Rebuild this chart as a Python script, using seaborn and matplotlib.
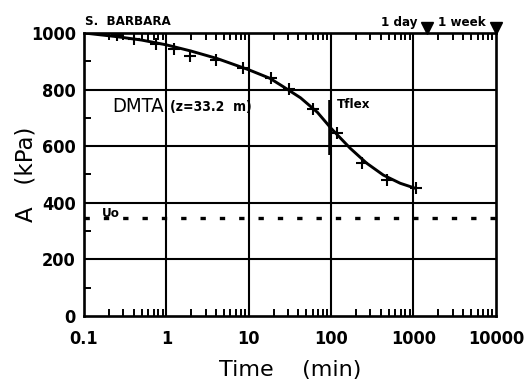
import matplotlib
matplotlib.use("Agg")
import matplotlib.pyplot as plt
import seaborn as sns
import numpy as np
import pandas as pd
from matplotlib.ticker import LogLocator, MultipleLocator, FixedLocator, NullFormatter

# --- data ---
point_time = [0.25, 0.40, 0.74, 1.23, 1.93, 4.0, 8.5, 18.6, 31, 60, 117, 235, 482, 1060]
point_A = [993, 979, 961, 943, 920, 904, 877, 840, 802, 731, 645, 540, 481, 451]

curve_time = [0.1, 0.25, 0.5, 1, 2, 4.1, 10, 18, 26, 42.5, 68, 100, 170, 270, 430, 690, 1060]
curve_A = [1000, 987, 975, 958, 936, 910, 870, 840, 811, 771, 720, 663, 593, 540, 498, 469, 451]

uo_value = 345
tflex_time = 96
tflex_range = [569, 763]
marker_times = [1440, 10080]
marker_labels = ["1 day", "1 week"]

x_ticks = [0.1, 1, 10, 100, 1000, 10000]
x_ticklabels = ["0.1", "1", "10", "100", "1000", "10000"]
y_ticks = [0, 200, 400, 600, 800, 1000]

sns.set_style("white", rc={"text.color": "black", "axes.labelcolor": "black",
                           "xtick.color": "black", "ytick.color": "black",
                           "axes.edgecolor": "black"})
plt.rcParams['font.family'] = ['DejaVu Sans']

NARROW = dict(family=["Liberation Sans Narrow", "DejaVu Sans"], fontstretch="condensed")

fig = plt.figure(figsize=(5.32, 3.89), dpi=100)
ax = fig.add_axes([0.158, 0.1877, 0.774, 0.7275])

curve_df = pd.DataFrame({"t": curve_time, "A": curve_A})
pts_df = pd.DataFrame({"t": point_time, "A": point_A})

sns.lineplot(data=curve_df, x="t", y="A", ax=ax, color="black", lw=2.1, sort=True,
             zorder=4)
sns.scatterplot(data=pts_df, x="t", y="A", ax=ax, marker="+", s=80, color="black",
                linewidth=1.5, zorder=5)

ax.set_xscale("log")
ax.set_xlim(0.1, 10000)
ax.set_ylim(0, 1000)

# grid
for xv in x_ticks[1:-1]:
    ax.axvline(xv, color="black", lw=1.5, zorder=1)
for yv in y_ticks[1:-1]:
    ax.axhline(yv, color="black", lw=1.5, zorder=1)

# Uo dashed line
ax.axhline(uo_value, color="black", lw=2.4, ls=(0, (1.6, 4.2)), zorder=3)
ax.text(0.165, 362, "Uo", fontsize=9.5, fontweight="bold", va="center", ha="left", **NARROW)

# Tflex marker
ax.plot([tflex_time, tflex_time], tflex_range, color="black", lw=2.6, zorder=4,
        solid_capstyle="butt")
ax.text(117, 746, "Tflex", fontsize=9.5, fontweight="bold", va="center", ha="left", **NARROW)

# DMTA labels
ax.text(0.218, 739, "DMTA", fontsize=14.5, va="center", ha="left", **NARROW)
ax.text(1.1, 739, "(z=33.2  m)", fontsize=10, fontweight="bold", va="center", ha="left",
        **NARROW)

# top annotations
ax.text(0.103, 1028, "S.  BARBARA", fontsize=9.5, fontweight="bold", va="baseline",
        ha="left", clip_on=False, **NARROW)
ax.plot(marker_times, [1018, 1018], ls="none", marker="v", color="black", markersize=8,
        clip_on=False, zorder=6)
ax.text(1117, 1025, marker_labels[0], fontsize=9.5, fontweight="bold", va="baseline",
        ha="right", clip_on=False, **NARROW)
ax.text(7470, 1025, marker_labels[1], fontsize=9.5, fontweight="bold", va="baseline",
        ha="right", clip_on=False, **NARROW)

# ticks
ax.xaxis.set_major_locator(FixedLocator(x_ticks))
ax.set_xticklabels(x_ticklabels)
ax.xaxis.set_minor_locator(LogLocator(base=10, subs=np.arange(2, 10), numticks=20))
ax.xaxis.set_minor_formatter(NullFormatter())
ax.yaxis.set_major_locator(FixedLocator(y_ticks))
ax.yaxis.set_minor_locator(MultipleLocator(100))

ax.tick_params(axis="x", which="major", length=0, pad=10)
ax.tick_params(axis="y", which="major", length=0, pad=6)
ax.tick_params(axis="x", which="minor", direction="in", length=5, width=1.4,
               top=True, bottom=True)
ax.tick_params(axis="y", which="minor", direction="in", length=5, width=1.4, left=True)
for lbl in ax.get_xticklabels() + ax.get_yticklabels():
    lbl.set_family(["Liberation Sans Narrow", "DejaVu Sans"])
    lbl.set_fontstretch("condensed")
    lbl.set_fontweight("bold")
    lbl.set_fontsize(13)

for sp in ax.spines.values():
    sp.set_visible(True)
    sp.set_color("black")
    sp.set_linewidth(1.9)

ax.set_xlabel("Time    (min)", fontsize=16)
ax.set_ylabel("A   (kPa)", fontsize=16.5)
ax.xaxis.set_label_coords(0.5, -0.155)
ax.yaxis.set_label_coords(-0.113, 0.5)

fig.savefig("out.png", dpi=100)
